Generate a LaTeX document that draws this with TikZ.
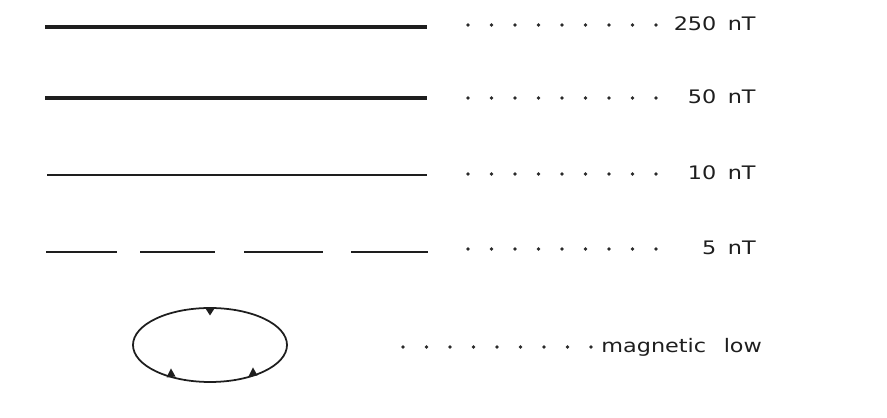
\documentclass[tikz,border=0pt]{standalone}
\usepackage{fontspec}
\usepackage{tikz}
\usetikzlibrary{calc}
\newfontfamily\legendfont[FakeStretch=1.2]{DejaVu Sans}
\definecolor{ink}{HTML}{1E1E1E}
\definecolor{leader}{HTML}{2A2A2A}
\tikzset{
  isoline/.style={draw=ink,line cap=butt},
  lbl/.style={anchor=base east,inner sep=0pt,text=ink,font=\legendfont\fontsize{10.6}{12}\selectfont},
}

\begin{document}
\begin{tikzpicture}[x=0.02cm,y=-0.02cm]
  \useasboundingbox (0,0) rectangle (887,418);
  % contour line samples
  \draw[isoline,line width=2.3pt] (45,27) -- (427,27);
  \draw[isoline,line width=2pt] (45,98) -- (427,98);
  \draw[isoline,line width=1.1pt] (47,175) -- (427,175);
  \foreach \a/\b in {46/117,140/215,244/323,351/428}{\draw[isoline,line width=1.3pt] (\a,252) -- (\b,252);}
  % magnetic low: closed contour with inward ticks
  \draw[ink,line width=1pt] (210,345) ellipse [x radius=77, y radius=37];
  \fill[ink] (205.5,308.5) -- (214.5,308.5) -- (210,315.5) -- cycle;
  \fill[ink] (166.5,377.5) -- (175.5,376.5) -- (171,368.5) -- cycle;
  \fill[ink] (248.5,376.5) -- (257.5,375.5) -- (253,367.5) -- cycle;
  % leader dots
  \foreach \y in {25,98,174,249}{\foreach \i in {0,...,8}{\fill[leader] (468+23.5*\i,\y) circle [radius=1.9];}}
  \foreach \i in {0,...,8}{\fill[leader] (403+23.5*\i,347) circle [radius=1.9];}
  % labels
  \node[lbl] (l250) at (756,31) {250\hspace{6.5pt}nT};
  \node[lbl] (l50)  at (756,104) {50\hspace{6.5pt}nT};
  \node[lbl] (l10)  at (756,180) {10\hspace{6.5pt}nT};
  \node[lbl] (l5)   at (756,255) {5\hspace{6.5pt}nT};
  \node[lbl,anchor=base west] (llow) at (601,353) {magnetic\hspace{10pt}low};
\end{tikzpicture}
\end{document}
